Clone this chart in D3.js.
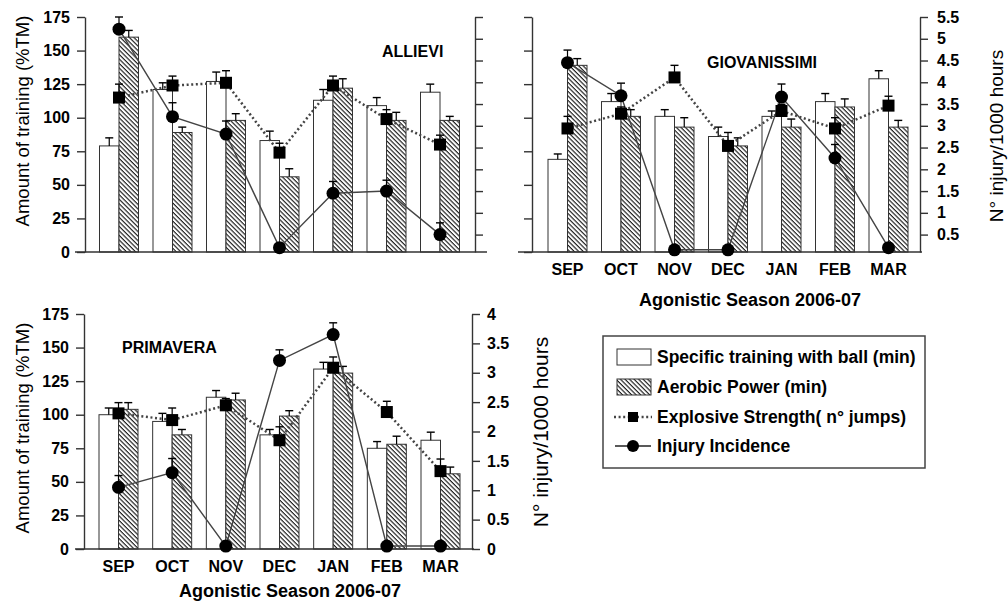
<!DOCTYPE html>
<html>
<head>
<meta charset="utf-8">
<script src="https://cdn.jsdelivr.net/npm/d3@7"></script>
<style>
  body { margin: 0; background: #fff; }
  svg { display: block; font-family: "Liberation Sans", Arial, sans-serif; }
  .axis path, .axis line { stroke: #333; stroke-width: 1.4; }
  .axis text { font-size: 16px; font-weight: bold; fill: #000; }
  .axis-title { font-size: 18.5px; fill: #000; }
  .x-label { font-size: 16px; font-weight: bold; }
  .panel-title { font-size: 16px; font-weight: bold; }
  .legend-text { font-size: 17.5px; font-weight: bold; }
</style>
</head>
<body>
<div id="chart"></div>
<script>
// Training load vs injury incidence, three youth teams

const months = ['SEP', 'OCT', 'NOV', 'DEC', 'JAN', 'FEB', 'MAR'];
const trainingTicks = [0, 25, 50, 75, 100, 125, 150, 175];
const injuryTicksTop = [0.5, 1, 1.5, 2, 2.5, 3, 3.5, 4, 4.5, 5, 5.5];
const injuryTicksBottom = [0, 0.5, 1, 1.5, 2, 2.5, 3, 3.5, 4];

// ALLIEVI
const allieviBall = [79, 121, 127, 83, 113, 109, 119];
const allieviBallErr = [6, 5, 7, 7, 8, 6, 6];
const allieviAerobic = [160, 89, 98, 56, 122, 98, 98];
const allieviAerobicErr = [5, 4, 5, 6, 7, 6, 3];
const allieviJumps = [115, 124, 126, 74, 124, 99, 80];
const allieviJumpsErr = [10, 7, 9, 7, 7, 7, 7];
const allieviInjury = [5.22, 3.21, 2.81, 0.2, 1.45, 1.5, 0.5];
const allieviInjuryErr = [0.28, 0.32, 0.3, 0, 0.27, 0.25, 0.27];

// GIOVANISSIMI
const giovBall = [69, 112, 101, 86, 101, 112, 129];
const giovBallErr = [4, 6, 5, 7, 4, 6, 6];
const giovAerobic = [139, 101, 93, 79, 93, 108, 93];
const giovAerobicErr = [5, 5, 7, 6, 6, 6, 5];
const giovJumps = [92, 103, 130, 79, 105, 92, 109];
const giovJumpsErr = [9, 5, 9, 10, 5, 8, 7];
const giovInjury = [4.45, 3.69, 0.15, 0.15, 3.66, 2.26, 0.2];
const giovInjuryErr = [0.29, 0.29, 0, 0, 0.3, 0.31, 0];

// PRIMAVERA
const primBall = [100, 95, 113, 85, 134, 75, 81];
const primBallErr = [5, 6, 5, 4, 5, 5, 6];
const primAerobic = [104, 85, 111, 99, 131, 78, 56];
const primAerobicErr = [5, 4, 5, 4, 5, 6, 5];
const primJumps = [101, 96, 107, 81, 135, 102, 58];
const primJumpsErr = [8, 9, 5, 10, 8, 8, 9];
const primInjury = [1.05, 1.3, 0.05, 3.21, 3.65, 0.05, 0.05];
const primInjuryErr = [0.2, 0.24, 0, 0.18, 0.2, 0, 0];

const width = 1008;
const height = 605;
const barW = 19.5;

const svg = d3.select('#chart')
    .append('svg')
    .attr('width', width)
    .attr('height', height);

// hatch pattern for aerobic bars
svg.append('defs')
    .append('pattern')
    .attr('id', 'hatch')
    .attr('patternUnits', 'userSpaceOnUse')
    .attr('width', 3.2)
    .attr('height', 3.2)
    .attr('patternTransform', 'rotate(-45)')
    .call(p => {
        p.append('rect').attr('width', 3.2).attr('height', 3.2).attr('fill', '#fff');
        p.append('line')
            .attr('x1', 1).attr('y1', 0).attr('x2', 1).attr('y2', 3.2)
            .attr('stroke', '#111').attr('stroke-width', 1.1);
    });

function errorBar(g, x, y0, y1) {
    g.append('line')
        .attr('x1', x).attr('x2', x).attr('y1', y0).attr('y2', y1)
        .attr('stroke', '#000').attr('stroke-width', 1.2);
    g.append('line')
        .attr('x1', x - 4).attr('x2', x + 4).attr('y1', y1).attr('y2', y1)
        .attr('stroke', '#000').attr('stroke-width', 1.4);
}

function drawPanel(cfg) {
    const g = svg.append('g');

    const x = d3.scalePoint().domain(months).range([cfg.xFirst, cfg.xLast]);
    const y = d3.scaleLinear().domain([0, 175]).range([cfg.yBottom, cfg.yTop]);
    const yR = d3.scaleLinear().domain(cfg.injuryDomain).range([cfg.yBottom, cfg.yTop]);

    // bars: ball training (white) and aerobic power (hatched)
    months.forEach((m, i) => {
        const cx = x(m);
        g.append('rect')
            .attr('x', cx - barW).attr('y', y(cfg.ball[i]))
            .attr('width', barW).attr('height', y(0) - y(cfg.ball[i]))
            .attr('fill', '#fff').attr('stroke', '#333').attr('stroke-width', 1);
        g.append('rect')
            .attr('x', cx).attr('y', y(cfg.aerobic[i]))
            .attr('width', barW).attr('height', y(0) - y(cfg.aerobic[i]))
            .attr('fill', 'url(#hatch)').attr('stroke', '#333').attr('stroke-width', 1);
        errorBar(g, cx - barW / 2, y(cfg.ball[i]), y(cfg.ball[i] + cfg.ballErr[i]));
        errorBar(g, cx + barW / 2, y(cfg.aerobic[i]), y(cfg.aerobic[i] + cfg.aerobicErr[i]));
    });

    // axes
    const leftAxis = d3.axisLeft(y).tickValues(trainingTicks)
        .tickSize(8).tickSizeOuter(0).tickPadding(7);
    if (!cfg.leftLabels) leftAxis.tickFormat('');
    g.append('g').attr('class', 'axis')
        .attr('transform', `translate(${cfg.leftX},0)`)
        .call(leftAxis);

    const rightAxis = d3.axisRight(yR).tickValues(cfg.injuryTicks)
        .tickSize(8).tickSizeOuter(0).tickPadding(cfg.rightPad)
        .tickFormat(d => String(d));
    if (!cfg.rightLabels) rightAxis.tickFormat('');
    g.append('g').attr('class', 'axis')
        .attr('transform', `translate(${cfg.rightX},0)`)
        .call(rightAxis);

    g.append('line')
        .attr('x1', cfg.baseX0).attr('x2', cfg.baseX1)
        .attr('y1', cfg.yBottom).attr('y2', cfg.yBottom)
        .attr('stroke', '#333').attr('stroke-width', 1.6);

    // explosive strength (dotted line + squares)
    const jumpLine = d3.line().x((d, i) => x(months[i])).y(d => y(d));
    g.append('path')
        .attr('d', jumpLine(cfg.jumps))
        .attr('fill', 'none').attr('stroke', '#444')
        .attr('stroke-width', 2.5).attr('stroke-dasharray', '2,2.6');

    // injury incidence (solid line + circles)
    const injLine = d3.line().x((d, i) => x(months[i])).y(d => yR(d));
    g.append('path')
        .attr('d', injLine(cfg.injury))
        .attr('fill', 'none').attr('stroke', '#444').attr('stroke-width', 1.4);

    months.forEach((m, i) => {
        const cx = x(m);
        if (cfg.jumpsErr[i] > 0) errorBar(g, cx, y(cfg.jumps[i]), y(cfg.jumps[i] + cfg.jumpsErr[i]));
        g.append('rect')
            .attr('x', cx - 6).attr('y', y(cfg.jumps[i]) - 6)
            .attr('width', 12).attr('height', 12).attr('fill', '#000');
        if (cfg.injuryErr[i] > 0) errorBar(g, cx, yR(cfg.injury[i]), yR(cfg.injury[i] + cfg.injuryErr[i]));
        g.append('circle')
            .attr('cx', cx).attr('cy', yR(cfg.injury[i])).attr('r', 6.5)
            .attr('fill', '#000');
    });

    // texts
    g.append('text').attr('class', 'panel-title')
        .attr('x', cfg.titleX).attr('y', cfg.titleY).text(cfg.title);

    if (cfg.leftLabels) {
        g.append('text').attr('class', 'axis-title')
            .attr('text-anchor', 'middle')
            .attr('transform', `translate(29,${cfg.leftTitleY}) rotate(-90)`)
            .text('Amount of training (%TM)');
    }
    if (cfg.rightLabels) {
        g.append('text').attr('class', 'axis-title')
            .style('font-size', cfg.rightTitleSize + 'px')
            .attr('text-anchor', 'middle')
            .attr('transform', `translate(${cfg.rightTitleX},${cfg.rightTitleY}) rotate(-90)`)
            .text('N° injury/1000 hours');
    }
    if (cfg.xLabels) {
        months.forEach(m => {
            g.append('text').attr('class', 'x-label')
                .attr('x', x(m)).attr('y', cfg.yBottom + 23)
                .attr('text-anchor', 'middle').text(m);
        });
        g.append('text').attr('class', 'x-label')
            .style('font-size', '18px')
            .attr('x', cfg.xTitleX).attr('y', cfg.yBottom + cfg.xTitleDy)
            .attr('text-anchor', 'middle').text('Agonistic Season 2006-07');
    }
}

drawPanel({
    title: 'ALLIEVI', titleX: 382, titleY: 57,
    ball: allieviBall, ballErr: allieviBallErr,
    aerobic: allieviAerobic, aerobicErr: allieviAerobicErr,
    jumps: allieviJumps, jumpsErr: allieviJumpsErr,
    injury: allieviInjury, injuryErr: allieviInjuryErr,
    injuryDomain: [0.1, 5.5], injuryTicks: injuryTicksTop,
    xFirst: 119, xLast: 440, leftX: 85, rightX: 475,
    yTop: 17, yBottom: 252, baseX0: 75, baseX1: 487,
    leftLabels: true, rightLabels: false, xLabels: false, rightPad: 9,
    leftTitleY: 121
});

drawPanel({
    title: 'GIOVANISSIMI', titleX: 707, titleY: 68,
    ball: giovBall, ballErr: giovBallErr,
    aerobic: giovAerobic, aerobicErr: giovAerobicErr,
    jumps: giovJumps, jumpsErr: giovJumpsErr,
    injury: giovInjury, injuryErr: giovInjuryErr,
    injuryDomain: [0.1, 5.5], injuryTicks: injuryTicksTop,
    xFirst: 567.5, xLast: 888.5, leftX: 532, rightX: 920,
    yTop: 17, yBottom: 252, baseX0: 518, baseX1: 922,
    leftLabels: false, rightLabels: true, xLabels: true, rightPad: 9,
    rightTitleX: 1003, rightTitleY: 136, rightTitleSize: 19,
    xTitleX: 750, xTitleDy: 54
});

drawPanel({
    title: 'PRIMAVERA', titleX: 122, titleY: 353,
    ball: primBall, ballErr: primBallErr,
    aerobic: primAerobic, aerobicErr: primAerobicErr,
    jumps: primJumps, jumpsErr: primJumpsErr,
    injury: primInjury, injuryErr: primInjuryErr,
    injuryDomain: [0, 4], injuryTicks: injuryTicksBottom,
    xFirst: 118.5, xLast: 440.5, leftX: 84, rightX: 472,
    yTop: 314, yBottom: 549, baseX0: 75, baseX1: 474,
    leftLabels: true, rightLabels: true, xLabels: true, rightPad: 7,
    rightTitleX: 548, rightTitleY: 432, rightTitleSize: 21,
    xTitleX: 290, xTitleDy: 48,
    leftTitleY: 428
});

// legend
const legend = svg.append('g');
legend.append('rect')
    .attr('x', 603).attr('y', 336).attr('width', 322).attr('height', 132)
    .attr('fill', '#fff').attr('stroke', '#444').attr('stroke-width', 1.5);

const legendItems = [
    'Specific training with ball (min)',
    'Aerobic Power (min)',
    'Explosive Strength( n° jumps)',
    'Injury Incidence'
];
const legendY = [357, 387, 417, 446];

legend.append('rect').attr('x', 617).attr('y', 349).attr('width', 34).attr('height', 16)
    .attr('fill', '#fff').attr('stroke', '#333');
legend.append('rect').attr('x', 617).attr('y', 379).attr('width', 34).attr('height', 16)
    .attr('fill', 'url(#hatch)').attr('stroke', '#333');
legend.append('line').attr('x1', 614).attr('x2', 652).attr('y1', 417).attr('y2', 417)
    .attr('stroke', '#444').attr('stroke-width', 2.5).attr('stroke-dasharray', '2,2.6');
legend.append('rect').attr('x', 628).attr('y', 412).attr('width', 10).attr('height', 10).attr('fill', '#000');
legend.append('line').attr('x1', 615).attr('x2', 651).attr('y1', 446).attr('y2', 446)
    .attr('stroke', '#222').attr('stroke-width', 1.5);
legend.append('circle').attr('cx', 633).attr('cy', 446).attr('r', 6).attr('fill', '#000');

legend.selectAll('.legend-text')
    .data(legendItems)
    .enter()
    .append('text')
    .attr('class', 'legend-text')
    .attr('x', 657)
    .attr('y', (d, i) => legendY[i] + 6)
    .text(d => d);
</script>
</body>
</html>
